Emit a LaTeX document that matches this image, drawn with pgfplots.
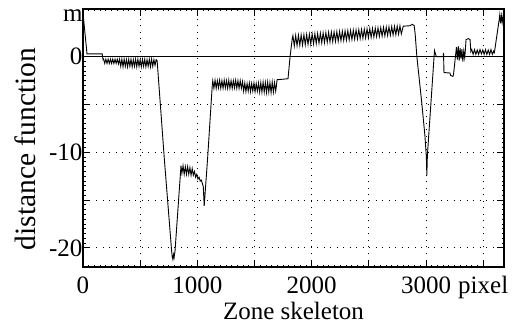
\documentclass[border=0pt]{standalone}
\usepackage{fontspec}
\setmainfont{Liberation Serif}
\usepackage{pgfplots}
\pgfplotsset{compat=1.18}
\begin{document}
\begin{tikzpicture}
\begin{axis}[
 scale only axis, width=421pt, height=258pt,
 xmin=0, xmax=3682, ymin=-22, ymax=5,
 xtick={0,500,...,3500}, xticklabels={0,,1000,,2000,,3000,pixel},
 ytick={-20,-15,-10,-5,0}, yticklabels={-20,,-10,,0},
 extra y ticks={4.3}, extra y tick labels={m},
 extra y tick style={grid=none, major tick length=0pt},
 minor x tick num=9, minor y tick num=9,
 major tick length=7pt, minor tick length=2.5pt,
 tick style={black, line width=0.8pt},
 axis line style={line width=1.1pt},
 grid=major, grid style={black, line width=0.9pt, dash pattern=on 1pt off 5.5pt},
 ticklabel style={font=\fontsize{25}{30}\selectfont},
 xticklabel style={anchor=base, yshift=-26pt},
 yticklabel style={xshift=3pt},
 xlabel={Zone skeleton}, ylabel={distance function},
 xlabel style={font=\fontsize{25}{30}\selectfont, at={(axis description cs:0.5,0)}, anchor=base, yshift=-52pt},
 ylabel style={font=\fontsize{29.5}{34}\selectfont, at={(ticklabel cs:0.457,6pt)}},
 /pgf/number format/assume math mode=true,
]
\addplot[black, line width=0.9pt] coordinates {(0,0) (3682,0)};
\addplot[black, line width=0.9pt, mark=none] coordinates {
(0,4.6) (35,0.3) (168,0.3) (175,-0.3)
(180,-0.25) (190,-0.7) (200,-0.25) (210,-0.7) (220,-0.25) (230,-0.7) (240,-0.25) (250,-0.7) (260,-0.25) (270,-0.7) (280,-0.25) (290,-0.7) (300,-0.25) (310,-0.75) (320,-0.25) (330,-1.0) (340,-0.25) (350,-1.05) (360,-0.25) (370,-1.0) (380,-0.3) (390,-1.05) (400,-0.25) (410,-1.0) (420,-0.25) (430,-1.05) (440,-0.3) (450,-1.0) (460,-0.25) (470,-1.05) (480,-0.25) (490,-1.0) (500,-0.3) (510,-1.05) (520,-0.25) (530,-1.0) (540,-0.25) (550,-1.05) (560,-0.3) (570,-1.0) (580,-0.25) (590,-1.05) (600,-0.25) (610,-1.0) (620,-0.3) (630,-0.9) (640,-0.3) (648,-0.4)
(652,-1.0) (712,-10.8) (775,-20.3) (780,-20.9) (786,-21.2) (792,-20.7) (797,-21.0) (805,-20.3) (857,-11.4)
(865,-12.2) (875,-11.4) (885,-12.3) (895,-11.5) (905,-12.3) (915,-11.5) (925,-12.3) (935,-11.6) (945,-12.4) (955,-11.7) (965,-12.4) (975,-12.0) (985,-12.6) (995,-12.3) (1005,-12.8) (1015,-12.6) (1025,-13.0) (1035,-12.9) (1045,-13.3) (1052,-13.6) (1060,-15.6)
(1090,-10.6) (1131,-2.9)
(1135,-2.5) (1145,-3.3) (1155,-2.45) (1165,-3.3) (1175,-2.5) (1185,-3.25) (1195,-2.45) (1205,-3.3) (1215,-2.5) (1225,-3.3) (1235,-2.45) (1245,-3.25) (1255,-2.5) (1265,-3.3) (1275,-2.45) (1285,-3.3) (1295,-2.5) (1305,-3.3) (1315,-2.5) (1325,-3.25) (1335,-2.45) (1345,-3.3) (1355,-2.5) (1365,-3.3) (1375,-2.5) (1385,-3.3) (1395,-2.6)
(1405,-3.6) (1415,-2.75) (1425,-3.65) (1435,-2.8) (1445,-3.6) (1455,-2.75) (1465,-3.65) (1475,-2.8) (1485,-3.6) (1495,-2.75) (1505,-3.65) (1515,-2.8) (1525,-3.6) (1535,-2.75) (1545,-3.7) (1555,-2.7) (1565,-3.7) (1575,-2.65) (1585,-3.7) (1595,-2.7) (1605,-3.75) (1615,-2.65) (1625,-3.7) (1635,-2.7) (1645,-3.75) (1655,-2.65) (1665,-3.7) (1675,-2.7) (1685,-3.6)
(1690,-3.2) (1697,-2.4) (1793,-2.3) (1811,0) (1830,1.9)
(1836,2.21) (1848,1.12) (1860,2.23) (1872,1.16) (1884,2.26) (1896,1.19) (1908,2.29) (1920,1.22) (1932,2.31) (1944,1.25) (1956,2.34) (1968,1.29) (1980,2.37) (1992,1.32) (2004,2.39) (2016,1.35) (2028,2.42) (2040,1.38) (2052,2.44) (2064,1.42) (2076,2.47) (2088,1.45) (2100,2.50) (2112,1.48) (2124,2.52) (2136,1.51) (2148,2.55) (2160,1.55) (2172,2.58) (2184,1.58) (2196,2.60) (2208,1.61) (2220,2.63) (2232,1.64) (2244,2.66) (2256,1.68) (2268,2.68) (2280,1.71) (2292,2.71) (2304,1.74) (2316,2.73) (2328,1.77) (2340,2.76) (2352,1.80) (2364,2.79) (2376,1.84) (2388,2.81) (2400,1.87) (2412,2.84) (2424,1.90) (2436,2.87) (2448,1.93) (2460,2.89) (2472,1.97) (2484,2.92) (2496,2.00) (2508,2.95) (2520,2.03) (2532,2.97) (2544,2.06) (2556,3.00) (2568,2.10) (2580,3.03) (2592,2.13) (2604,3.05) (2616,2.16) (2628,3.08) (2640,2.19) (2652,3.10) (2664,2.23) (2676,3.13) (2688,2.26) (2700,3.16) (2712,2.29) (2724,3.18) (2736,2.32) (2748,3.21) (2760,2.36) (2772,3.24) (2784,2.39)
(2795,2.9) (2800,3.2) (2860,3.25) (2880,3.4) (2890,3.3) (2896,3.3)
(2905,2.4) (2920,0) (2960,-4.5) (2990,-8.2) (3003,-10.5) (3007,-12.4) (3012,-10.3) (3074,0.65)
(3090,0.02) (3150,0.02) (3153,0.4) (3157,-1.65) (3210,-1.7) (3215,-1.95) (3235,-2.05) (3240,-1.9) (3262,0.55)
(3266,1.0) (3274,-0.3) (3282,1.1) (3290,-0.4) (3298,0.9) (3306,-0.2) (3314,0.8) (3322,-0.5) (3330,0.6) (3338,-0.1) (3342,0.4)
(3350,1.8) (3370,1.9) (3385,1.8) (3392,0.55)
(3400,0.75) (3412,0.25) (3424,0.75) (3436,0.25) (3448,0.7) (3460,0.25) (3472,0.75) (3484,0.3) (3496,0.7) (3508,0.25) (3520,0.75) (3532,0.25) (3544,0.7) (3556,0.25) (3568,0.75) (3580,0.25) (3592,0.6) (3598,0.45)
(3640,3.9) (3645,4.4) (3652,3.5) (3659,4.3) (3666,3.6) (3673,4.2) (3680,3.7) (3682,4.0)
};
\end{axis}
\pgfresetboundingbox
\path ([xshift=-83pt,yshift=-59pt]current axis.south west) rectangle ([xshift=17pt,yshift=9pt]current axis.north east);
\end{tikzpicture}
\end{document}
